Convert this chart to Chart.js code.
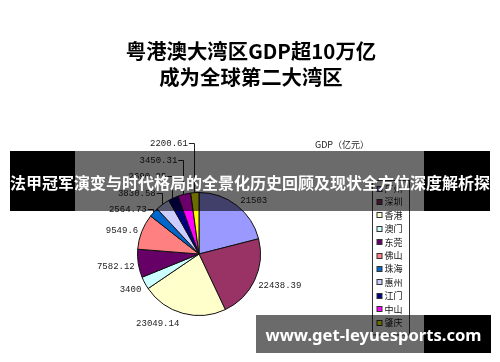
<!DOCTYPE html>
<html>
<head>
<meta charset="utf-8">
<script src="https://cdn.jsdelivr.net/npm/chart.js@4/dist/chart.umd.min.js"></script>
<style>
    body { margin: 0; background: #fff; }
    #wrap { position: relative; width: 500px; height: 362px; overflow: hidden; }
    #c { position: absolute; left: 0; top: 0; }
    #title {
        position: absolute; left: 1px; top: 37px; width: 500px;
        text-align: center; font: bold 20.4px/26px "Noto Sans CJK SC", sans-serif; color: #000;
    }
    .banner { position: absolute; color: #fff; font-weight: bold; white-space: nowrap; text-align: center; overflow: hidden; }
    #band-top {
        left: 10px; top: 151px; width: 480px; height: 60px;
        background: linear-gradient(to right, #000 0 65px, rgba(0,0,0,.58) 65px 414px, #000 414px);
        font: bold 16px/62px "Noto Sans CJK SC", sans-serif;
    }
    #band-bottom {
        left: 256px; top: 315px; width: 235px; height: 38px;
        background: linear-gradient(to right, rgba(0,0,0,.58) 0 168px, #000 168px);
        font: bold 16.6px/40px "Noto Sans", sans-serif;
    }
</style>
</head>
<body>
<div id="wrap">
    <canvas id="c" width="500" height="362"></canvas>
    <div id="title">
        <div>粤港澳大湾区GDP超10万亿</div>
        <div>成为全球第二大湾区</div>
    </div>
    <div class="banner" id="band-top">法甲冠军演变与时代格局的全景化历史回顾及现状全方位深度解析探</div>
    <div class="banner" id="band-bottom">www.get-leyuesports.com</div>
</div>
<script>
// ---------------- DATA ----------------
const regions = ['广州', '深圳', '香港', '澳门', '东莞', '佛山', '珠海', '惠州', '江门', '中山', '肇庆'];
const gdpValues = [21503, 22438.39, 23049.14, 3400, 7582.12, 9549.6, 2564.73, 3830.58, 2690.25, 3450.31, 2200.61];
const sliceColors = ['#9999FF', '#993366', '#FFFFCC', '#CCFFFF', '#660066', '#FF8080',
                     '#0066CC', '#CCCCFF', '#000080', '#FF00FF', '#FFFF00'];
const chartTitle = 'GDP（亿元）';

// ---------------- PLUGINS ----------------
// value labels outside the pie, small top-left slices get stacked leader lines (Excel style)
const pieLabels = {
    id: 'pieLabels',
    afterDatasetsDraw(chart) {
        const ctx = chart.ctx;
        const meta = chart.getDatasetMeta(0);
        const values = chart.data.datasets[0].data;

        ctx.save();
        ctx.font = '9px "Liberation Mono", monospace';
        ctx.fillStyle = '#222';
        ctx.strokeStyle = '#222';
        ctx.lineWidth = 1;
        ctx.textBaseline = 'middle';

        let stack = 0;
        let stackBaseY = null;

        meta.data.forEach((arc, i) => {
            const { x, y, startAngle, endAngle, outerRadius } =
                arc.getProps(['x', 'y', 'startAngle', 'endAngle', 'outerRadius'], true);
            const mid = (startAngle + endAngle) / 2;
            const dx = Math.cos(mid), dy = Math.sin(mid);
            const text = String(values[i]);
            const w = ctx.measureText(text).width;
            const ex = x + dx * outerRadius, ey = y + dy * outerRadius;
            const deg = ((mid * 180 / Math.PI) + 90 + 720) % 360;

            if (deg > 300) {
                if (stackBaseY === null) stackBaseY = ey - 3;
                const ly = Math.round(stackBaseY - 16.5 * stack) + 0.5;
                stack++;
                const lx = ex - 7;
                const vx = Math.round(ex - 1) + 0.5;
                ctx.textAlign = 'right';
                ctx.fillText(text, lx, ly);
                ctx.beginPath();
                ctx.moveTo(lx + 1, ly);
                ctx.lineTo(vx, ly);
                ctx.lineTo(vx, ey);
                ctx.stroke();
            } else {
                const side = dx < 0 ? -1 : 1;
                ctx.textAlign = 'center';
                ctx.fillText(text, ex + side * (3.5 + w / 2), ey + dy * 9 + 2);
            }
        });
        ctx.restore();
    },
    afterDraw(chart) {
        const ctx = chart.ctx;
        const ds = chart.data.datasets[0];
        ctx.save();

        // chart title
        ctx.font = '9px "Noto Sans CJK SC", sans-serif';
        ctx.fillStyle = '#222';
        ctx.textAlign = 'center';
        ctx.textBaseline = 'middle';
        ctx.fillText(chartTitle, 342, 145);

        // legend box
        const boxX = 372.5, boxY = 180.5, boxW = 37, rowH = 13.4;
        const boxH = rowH * chart.data.labels.length + 7;
        ctx.strokeStyle = '#333';
        ctx.lineWidth = 1;
        ctx.strokeRect(boxX, boxY, boxW, boxH);

        ctx.textAlign = 'left';
        chart.data.labels.forEach((label, i) => {
            const cy = boxY + 8 + i * rowH;
            ctx.fillStyle = ds.backgroundColor[i];
            ctx.fillRect(boxX + 4.5, Math.round(cy) - 2.5, 5, 5);
            ctx.strokeStyle = '#333';
            ctx.strokeRect(boxX + 4.5, Math.round(cy) - 2.5, 5, 5);
            ctx.fillStyle = '#111';
            ctx.fillText(label, boxX + 12, cy);
        });
        ctx.restore();
    }
};

// ---------------- CHART ----------------
new Chart(document.getElementById('c').getContext('2d'), {
    type: 'pie',
    data: {
        labels: regions,
        datasets: [{
            data: gdpValues,
            backgroundColor: sliceColors,
            borderColor: '#111',
            borderWidth: 1
        }]
    },
    options: {
        responsive: false,
        animation: false,
        layout: { padding: { left: 137, right: 239, top: 192, bottom: 46 } },
        plugins: {
            legend: { display: false },
            title: { display: false },
            tooltip: { enabled: false }
        }
    },
    plugins: [pieLabels]
});
</script>
</body>
</html>
